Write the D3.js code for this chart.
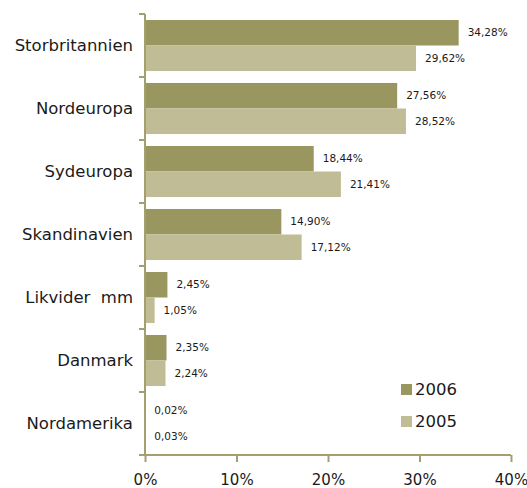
<!DOCTYPE html>
<html lang="da">
    <head>
        <meta charset="utf-8" />
        <title></title>
        <script src="https://cdn.jsdelivr.net/npm/d3@7"></script>
        <style type="text/css">
            body { margin: 0; background: #fff; }
            svg { display: block; }
            text { font-family: "DejaVu Sans", sans-serif; fill: #1a1a1a; }
        </style>
    </head>
    <body>
        <script type="text/javascript">
            var categories = ["Storbritannien", "Nordeuropa", "Sydeuropa", "Skandinavien", "Likvider  mm", "Danmark", "Nordamerika"];
            var series = ["2006", "2005"];
            var values2006 = [34.28, 27.56, 18.44, 14.90, 2.45, 2.35, 0.02];
            var values2005 = [29.62, 28.52, 21.41, 17.12, 1.05, 2.24, 0.03];
            var tickValues = [0, 10, 20, 30, 40];

            var colors = { "2006": "#9a9660", "2005": "#c0bd96" };
            var axisColor = "#a39f6e";

            var W = 527, H = 488;
            var plotLeft = 145, plotRight = 511, plotTop = 14, plotBottom = 455;

            var svg = d3.select("body").append("svg")
                .attr("width", W)
                .attr("height", H);

            var x = d3.scaleLinear().domain([0, 40]).range([plotLeft, plotRight]);
            var y = d3.scaleBand().domain(categories).range([plotTop, plotBottom])
                .paddingInner(0.19).paddingOuter(0.095);
            var ySub = d3.scaleBand().domain(series).range([0, y.bandwidth()]);

            var rows = categories.map(function (c, i) {
                return { cat: c, vals: [
                    { s: "2006", v: values2006[i] },
                    { s: "2005", v: values2005[i] }
                ] };
            });

            var g = svg.selectAll("g.row")
                .data(rows)
                .enter()
                .append("g")
                .attr("class", "row")
                .attr("transform", function (d) { return "translate(0," + y(d.cat) + ")"; });

            g.selectAll("rect")
                .data(function (d) { return d.vals; })
                .enter()
                .append("rect")
                .attr("x", x(0))
                .attr("y", function (d) { return ySub(d.s); })
                .attr("width", function (d) { return x(d.v) - x(0); })
                .attr("height", ySub.bandwidth())
                .attr("fill", function (d) { return colors[d.s]; });

            g.selectAll("text.val")
                .data(function (d) { return d.vals; })
                .enter()
                .append("text")
                .attr("class", "val")
                .attr("x", function (d) { return x(d.v) + 9; })
                .attr("y", function (d) { return ySub(d.s) + ySub.bandwidth() / 2; })
                .attr("dy", "0.35em")
                .style("font-size", "10.5px")
                .text(function (d) { return d.v.toFixed(2).replace(".", ",") + "%"; });

            // category labels
            svg.selectAll("text.cat")
                .data(categories)
                .enter()
                .append("text")
                .attr("class", "cat")
                .attr("x", plotLeft - 12)
                .attr("y", function (d) { return y(d) + y.bandwidth() / 2; })
                .attr("dy", "0.35em")
                .attr("text-anchor", "end")
                .style("font-size", "16.5px")
                .style("white-space", "pre")
                .text(function (d) { return d; });

            // y axis line + ticks between categories
            var yTicks = categories.map(function (c) { return y(c) - y.step() * y.paddingInner() / 2; });
            yTicks.push(plotBottom);
            svg.append("line")
                .attr("x1", plotLeft).attr("x2", plotLeft)
                .attr("y1", plotTop).attr("y2", plotBottom)
                .attr("stroke", axisColor).attr("stroke-width", 2);
            svg.selectAll("line.ytick")
                .data(yTicks)
                .enter()
                .append("line")
                .attr("class", "ytick")
                .attr("x1", plotLeft - 6).attr("x2", plotLeft)
                .attr("y1", function (d) { return d; })
                .attr("y2", function (d) { return d; })
                .attr("stroke", axisColor).attr("stroke-width", 2);

            // x axis
            var xAxis = d3.axisBottom(x)
                .tickValues(tickValues)
                .tickSize(7)
                .tickPadding(12)
                .tickFormat(function (d) { return d + "%"; });
            var xg = svg.append("g")
                .attr("transform", "translate(0," + plotBottom + ")")
                .call(xAxis);
            xg.select(".domain").remove();
            xg.append("line")
                .attr("x1", plotLeft - 6).attr("x2", plotRight)
                .attr("stroke", axisColor).attr("stroke-width", 2);
            xg.selectAll(".tick line").attr("stroke", axisColor).attr("stroke-width", 2);
            xg.selectAll(".tick text")
                .style("font-size", "15px")
                .style("font-family", "DejaVu Sans, sans-serif")
                .attr("fill", "#1a1a1a");

            // legend
            var legend = svg.selectAll("g.legend")
                .data(series)
                .enter()
                .append("g")
                .attr("class", "legend")
                .attr("transform", function (d, i) { return "translate(401," + (384 + i * 32) + ")"; });
            legend.append("rect")
                .attr("width", 11).attr("height", 11)
                .attr("fill", function (d) { return colors[d]; });
            legend.append("text")
                .attr("x", 14).attr("y", 5.5)
                .attr("dy", "0.35em")
                .style("font-size", "16.5px")
                .text(function (d) { return d; });
        </script>
    </body>
</html>
